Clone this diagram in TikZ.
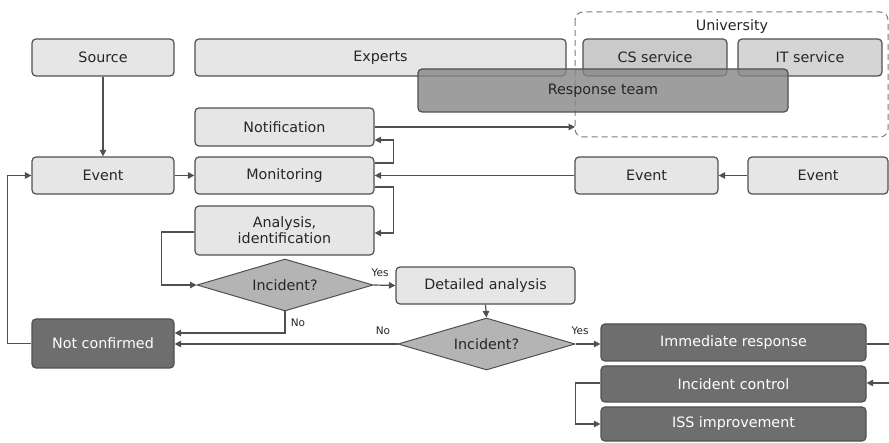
\documentclass[tikz,border=0pt]{standalone}
\usepackage{fontspec}
\setmainfont{DejaVu Sans}
\usetikzlibrary{shapes.geometric,arrows.meta}
\definecolor{edgegray}{HTML}{505050}
\definecolor{lightfill}{HTML}{E6E6E6}
\definecolor{midfill}{HTML}{CACACA}
\definecolor{teamfill}{HTML}{868686}
\definecolor{decfill}{HTML}{B4B4B4}
\definecolor{darkfill}{HTML}{6E6E6E}
\tikzset{
  box/.style={draw=edgegray, line width=1.2pt, rounded corners=4pt, inner sep=0pt,
    font=\fontsize{14.3}{16}\selectfont, align=center, text=black!85},
  lightbox/.style={box, fill=lightfill},
  svcbox/.style={box, fill=midfill},
  teambox/.style={box, fill=teamfill, fill opacity=0.8, text opacity=1},
  darkbox/.style={box, fill=darkfill, text=white},
  decision/.style={diamond, draw=edgegray, line width=1pt, fill=decfill, inner sep=0pt,
    shape aspect=3.4, font=\fontsize{14.3}{16}\selectfont, text=black!85},
  conn/.style={draw=edgegray, line width=1.2pt, -{Triangle[length=6.5pt,width=6.5pt]}},
  plain/.style={draw=edgegray, line width=1.2pt},
  small/.style={font=\fontsize{10.5}{12}\selectfont, text=black!85, inner sep=0pt}
}
\begin{document}
\begin{tikzpicture}[x=1pt,y=-1pt]
\useasboundingbox (0,0) rectangle (889,443);

% University group frame
\draw[edgegray!75, line width=1pt, dash pattern=on 6pt off 4pt, rounded corners=8pt]
  (575,12) rectangle (888,137);
\node[font=\fontsize{14.3}{16}\selectfont, text=black!85] (univlbl) at (732,27) {University};
\coordinate (univ) at (575,127);

% Top row of actors
\node[lightbox, minimum width=142pt, minimum height=37pt] (source) at (103,57.5) {Source};
\node[lightbox, minimum width=371pt, minimum height=37pt] (experts) at (380.5,57.5) {Experts};
\node[svcbox, minimum width=144pt, minimum height=37pt] (cs) at (655,57.5) {CS service};
\node[svcbox, minimum width=144pt, minimum height=37pt, fill=midfill!80] (it) at (810,57.5) {IT service};
\node[teambox, minimum width=370pt, minimum height=43pt] (team) at (603,90.5) {Response team};

% Processing column
\node[lightbox, minimum width=179pt, minimum height=38pt] (notif) at (284.5,127) {Notification};
\node[lightbox, minimum width=142pt, minimum height=37pt] (event) at (103,175.5) {Event};
\node[lightbox, minimum width=179pt, minimum height=37pt] (monit) at (284.5,175.5) {Monitoring};
\node[lightbox, minimum width=179pt, minimum height=49pt] (anal) at (284.5,230.5) {Analysis,\\identification};
\node[lightbox, minimum width=143pt, minimum height=37pt] (eventa) at (646.5,175.5) {Event};
\node[lightbox, minimum width=140pt, minimum height=37pt] (eventb) at (818,175.5) {Event};

% Decisions
\node[decision, minimum width=176pt, minimum height=52pt] (inc1) at (285,285) {Incident?};
\node[lightbox, minimum width=179pt, minimum height=37pt] (detail) at (485.5,285.5) {Detailed analysis};
\node[decision, minimum width=177pt, minimum height=52pt] (inc2) at (486.5,344) {Incident?};

% Outcomes
\node[darkbox, minimum width=142pt, minimum height=49pt] (notconf) at (103,343.5) {Not confirmed};
\node[darkbox, minimum width=265pt, minimum height=37pt] (immed) at (733.5,342.5) {Immediate response};
\node[darkbox, minimum width=265pt, minimum height=36pt] (control) at (733.5,384) {Incident control};
\node[darkbox, minimum width=265pt, minimum height=34pt] (iss) at (733.5,424) {ISS improvement};

\coordinate (outr) at (889,344);
\coordinate (inr) at (889,383);

% Connectors
\draw[conn] (source.south) -- (event.north);
\draw[conn] (notconf.west) -- ++(-24,0) |- (event.west);
\draw[conn] (event.east) -- (monit.west);
\draw[conn] ([yshift=12.5pt]monit.east) -- ++(19,0) |- ([yshift=-13pt]notif.east);
\draw[conn] (notif.east) -- (univ);
\draw[conn] (eventa.west) -- (monit.east);
\draw[conn] (eventb.west) -- (eventa.east);
\draw[conn] ([yshift=-11.5pt]monit.east) -- ++(19,0) |- ([yshift=-2.5pt]anal.east);
\draw[conn] ([yshift=-1.5pt]anal.west) -- ++(-33,0) |- (inc1.west);
\draw[conn] (inc1.east) -- (detail.west);
\draw[conn] (inc1.south) |- ([yshift=10.5pt]notconf.east);
\draw[conn] (detail.south) -- (inc2.north);
\draw[conn] (inc2.west) -- ([yshift=-0.5pt]notconf.east);
\draw[conn] (inc2.east) -- ([yshift=-1.5pt]immed.west);
\draw[plain] ([yshift=-1.5pt]immed.east) -- (outr);
\draw[conn] (inr) -- ([yshift=1pt]control.east);
\draw[conn] ([yshift=1pt]control.west) -- ++(-25,0) |- (iss.west);

% Branch labels
\node[small] (yes1) at (380,273) {Yes};
\node[small] (no1) at (298,323) {No};
\node[small] (no2) at (383,331) {No};
\node[small] (yes2) at (580,331) {Yes};
\end{tikzpicture}
\end{document}
